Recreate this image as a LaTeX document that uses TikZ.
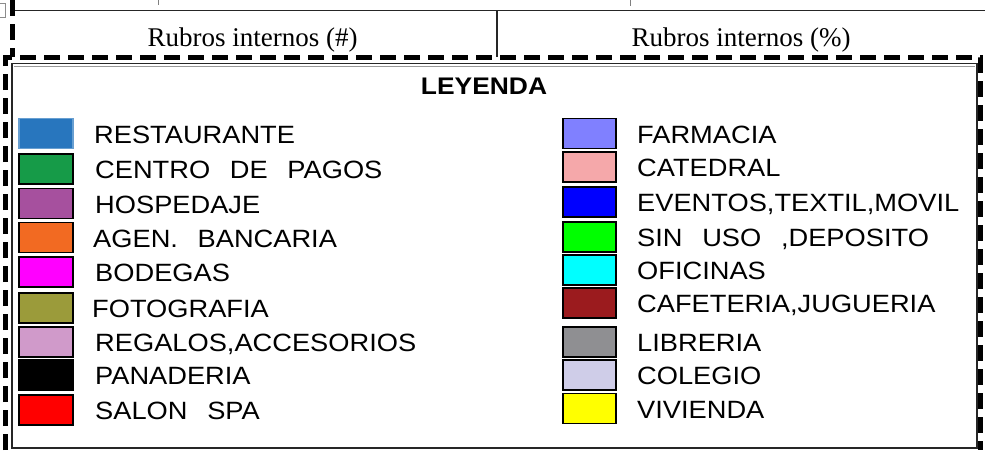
\documentclass[tikz,border=0pt]{standalone}
\usepackage{fontspec}
\setmainfont{Liberation Serif}
\newfontfamily\cadfont[FakeStretch=1.09,WordSpace=2.6]{Liberation Sans}
\newfontfamily\cadbold[FakeStretch=1.1]{Liberation Sans Bold}
\definecolor{cRest}{RGB}{40,118,190}
\definecolor{cPagos}{RGB}{22,155,72}
\definecolor{cHosp}{RGB}{166,80,158}
\definecolor{cBanc}{RGB}{242,106,34}
\definecolor{cBod}{RGB}{255,0,255}
\definecolor{cFoto}{RGB}{155,155,58}
\definecolor{cRegal}{RGB}{208,154,202}
\definecolor{cPan}{RGB}{0,0,0}
\definecolor{cSpa}{RGB}{255,0,0}
\definecolor{cFarm}{RGB}{128,128,255}
\definecolor{cCat}{RGB}{245,168,170}
\definecolor{cEvt}{RGB}{0,0,255}
\definecolor{cSin}{RGB}{0,255,0}
\definecolor{cOfi}{RGB}{0,255,255}
\definecolor{cCaf}{RGB}{155,27,30}
\definecolor{cLib}{RGB}{143,143,146}
\definecolor{cCol}{RGB}{207,205,232}
\definecolor{cViv}{RGB}{255,255,0}
\begin{document}
\begin{tikzpicture}[x=1pt,y=-1pt,
  cadDash/.style={line width=5pt,dash pattern=on 16pt off 8pt},
  thinline/.style={line width=1.2pt,black!85},
  swatch/.style={draw=black,line width=1.2pt,minimum width=54pt,minimum height=30pt,inner sep=0pt},
  swatchR/.style={swatch,minimum width=53pt},
  lbl/.style={anchor=base west,inner sep=0pt,font=\cadfont\fontsize{25}{30}\selectfont},
  head/.style={anchor=base,inner sep=0pt,font=\fontsize{27}{32}\selectfont}]
\useasboundingbox (0,0) rectangle (985,450);
% top residue and ticks
\draw[black!45,line width=0.8pt] (0,3) -- (5,3) -- (5,17) -- (0,17);
\draw[black!50,line width=0.8pt] (158,0) -- (158,5);
\draw[black!50,line width=0.8pt] (630,0) -- (630,6);
% header row
\draw[thinline] (12,10.5) -- (985,10.5);
\draw[thinline] (497,10.5) -- (497,57);
\node[head] (h1) at (252.5,46) {Rubros internos (\#)};
\node[head] (h2) at (741,46) {Rubros internos (\%)};
% dashed frames
\draw[cadDash] (12,0) -- (12,57);
\draw[cadDash] (5,450) -- (5,57) -- (980,57) -- (980,450);
% legend inner frame
\draw[thinline] (12,63.5) rectangle (977,448);
\draw[black!40,line width=0.8pt] (14,66) -- (975,66);
\node[anchor=base,inner sep=0pt,font=\cadbold\fontsize{24}{28}\selectfont] (title) at (484,94) {LEYENDA};
% left column
\node[swatch,fill=cRest,draw=cRest!70] (s1) at (46,133.5) {};
\node[swatch,fill=cPagos] (s2) at (46,169) {};
\node[swatch,fill=cHosp] (s3) at (46,203.5) {};
\node[swatch,fill=cBanc] (s4) at (46,237.5) {};
\node[swatch,fill=cBod] (s5) at (46,272) {};
\node[swatch,fill=cFoto] (s6) at (46,308) {};
\node[swatch,fill=cRegal] (s7) at (46,342) {};
\node[swatch,fill=cPan] (s8) at (46,375) {};
\node[swatch,fill=cSpa] (s9) at (46,410) {};
\node[lbl] (l1) at (94,143) {RESTAURANTE};
\node[lbl] (l2) at (95,178.5) {CENTRO DE PAGOS};
\node[lbl] (l3) at (95,213) {HOSPEDAJE};
\node[lbl] (l4) at (93,247) {AGEN. BANCARIA};
\node[lbl] (l5) at (95,281.5) {BODEGAS};
\node[lbl] (l6) at (92,317.5) {FOTOGRAFIA};
\node[lbl] (l7) at (95,351.5) {REGALOS,ACCESORIOS};
\node[lbl] (l8) at (95,384.5) {PANADERIA};
\node[lbl] (l9) at (95,419.5) {SALON SPA};
% right column
\node[swatchR,fill=cFarm] (r1) at (589.5,133.5) {};
\node[swatchR,fill=cCat] (r2) at (589.5,167) {};
\node[swatchR,fill=cEvt] (r3) at (589.5,202) {};
\node[swatchR,fill=cSin] (r4) at (589.5,237) {};
\node[swatchR,fill=cOfi] (r5) at (589.5,270) {};
\node[swatchR,fill=cCaf] (r6) at (589.5,303) {};
\node[swatchR,fill=cLib] (r7) at (589.5,342) {};
\node[swatchR,fill=cCol] (r8) at (589.5,375) {};
\node[swatchR,fill=cViv] (r9) at (589.5,408.5) {};
\node[lbl] (m1) at (637,143) {FARMACIA};
\node[lbl] (m2) at (637,176.5) {CATEDRAL};
\node[lbl] (m3) at (637,211.5) {EVENTOS,TEXTIL,MOVIL};
\node[lbl] (m4) at (637,246.5) {SIN USO ,DEPOSITO};
\node[lbl] (m5) at (637,279.5) {OFICINAS};
\node[lbl] (m6) at (637,312.5) {CAFETERIA,JUGUERIA};
\node[lbl] (m7) at (637,351.5) {LIBRERIA};
\node[lbl] (m8) at (637,384.5) {COLEGIO};
\node[lbl] (m9) at (637,418) {VIVIENDA};
\end{tikzpicture}
\end{document}
